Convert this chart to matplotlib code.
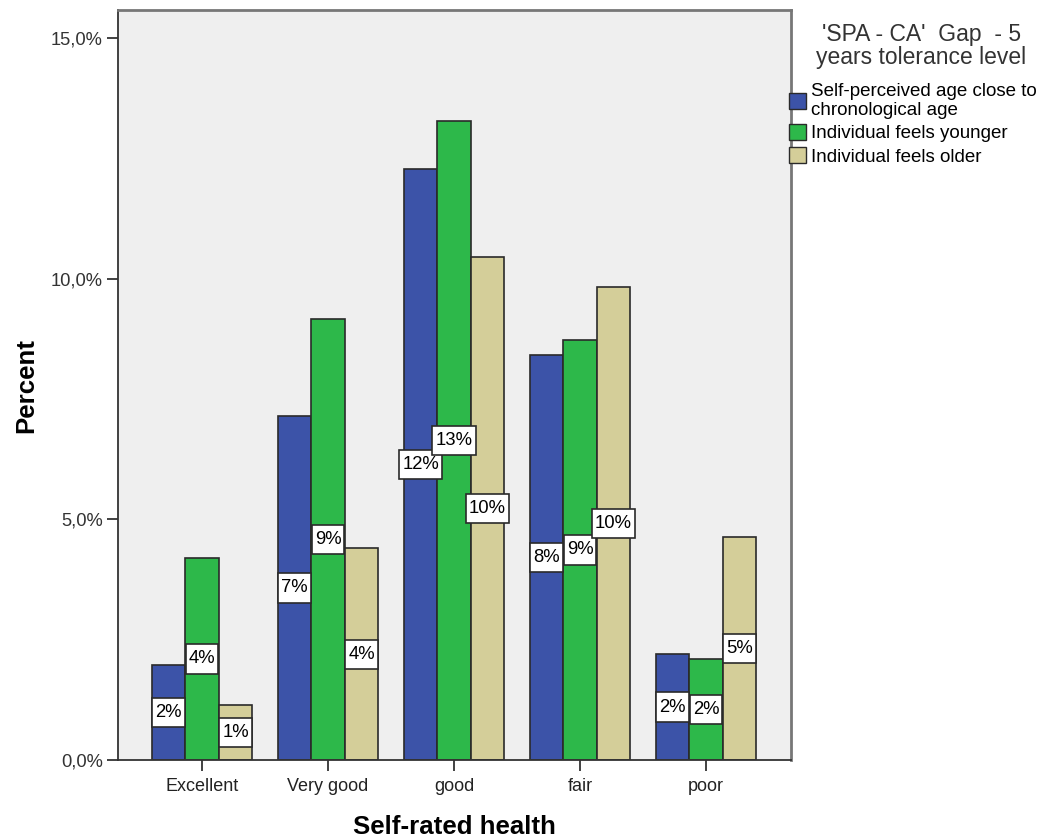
import numpy as np
import matplotlib.pyplot as plt
from matplotlib.patches import Patch
from matplotlib.path import Path

plt.rcParams['font.family'] = ['Liberation Sans', 'DejaVu Sans']

categories = ['Excellent', 'Very good', 'good', 'fair', 'poor']
closeAge = [1.97, 7.15, 12.28, 8.41, 2.20]
feelsYounger = [4.20, 9.16, 13.28, 8.73, 2.10]
feelsOlder = [1.14, 4.40, 10.45, 9.83, 4.63]
seriesNames = ['Self-perceived age close to\nchronological age',
               'Individual feels younger',
               'Individual feels older']
colors = ['#3C53A8', '#2DB84A', '#D4CE99']


def labelBox(x0, y0, width, height, mutation_size):
    # SPSS-like label box: narrow sides, taller top/bottom
    padx = 0.17 * mutation_size
    pady = 0.33 * mutation_size
    x0, y0 = x0 - padx, y0 - pady
    x1, y1 = x0 + width + 2 * padx, y0 + height + 2 * pady
    return Path([(x0, y0), (x1, y0), (x1, y1), (x0, y1), (x0, y0)], closed=True)


fig = plt.figure(figsize=(10.48, 8.4), dpi=100)
ax = fig.add_axes([0.1126, 0.0952, 0.6422, 0.8928])
ax.set_facecolor('#EFEFEF')

x = np.arange(len(categories))
width = 0.266
for k, values in enumerate([closeAge, feelsYounger, feelsOlder]):
    pos = x + (k - 1) * width
    ax.bar(pos, values, width, color=colors[k], edgecolor='#2a2a2a', linewidth=1.2, zorder=2)
    for px, v in zip(pos, values):
        ax.text(px, v / 2, '{:d}%'.format(int(round(v))), ha='center', va='center', fontsize=13.3,
                zorder=3, bbox=dict(boxstyle=labelBox, facecolor='white', edgecolor='#2a2a2a', linewidth=1.2))

ax.set_xlim(-0.667, 4.675)
ax.set_ylim(0, 15.58)
ax.set_yticks([0, 5, 10, 15])
ax.set_yticklabels(['0,0%', '5,0%', '10,0%', '15,0%'], fontsize=13.2, color='#333333')
ax.set_xticks(x)
ax.set_xticklabels(categories, fontsize=13, color='#222222')
ax.tick_params(axis='both', length=8, width=1.3, color='#333333')
ax.tick_params(axis='x', pad=5)
ax.tick_params(axis='y', pad=3)
ax.set_ylabel('Percent', fontsize=18.6, fontweight='bold', labelpad=9)
ax.set_xlabel('Self-rated health', fontsize=18.6, fontweight='bold', labelpad=14)
for side in ['left', 'bottom']:
    ax.spines[side].set_color('#333333')
    ax.spines[side].set_linewidth(1.3)
for side in ['top', 'right']:
    ax.spines[side].set_color('#777777')
    ax.spines[side].set_linewidth(2)

fig.text(0.879, 0.945, "'SPA - CA'  Gap  - 5\nyears tolerance level", ha='center', va='center',
         fontsize=16.5, color='#333333', linespacing=1.0)
handles = [Patch(facecolor=c, edgecolor='#2a2a2a') for c in colors]
leg = fig.legend(handles, seriesNames, loc='upper left', bbox_to_anchor=(0.753, 0.901), frameon=False,
                 fontsize=13.5, handlelength=0.9, handleheight=0.95, handletextpad=0.25, labelspacing=0.25,
                 borderaxespad=0, borderpad=0)
for t in leg.get_texts():
    t.set_linespacing(1.15)

plt.savefig('out.png', dpi=100)
